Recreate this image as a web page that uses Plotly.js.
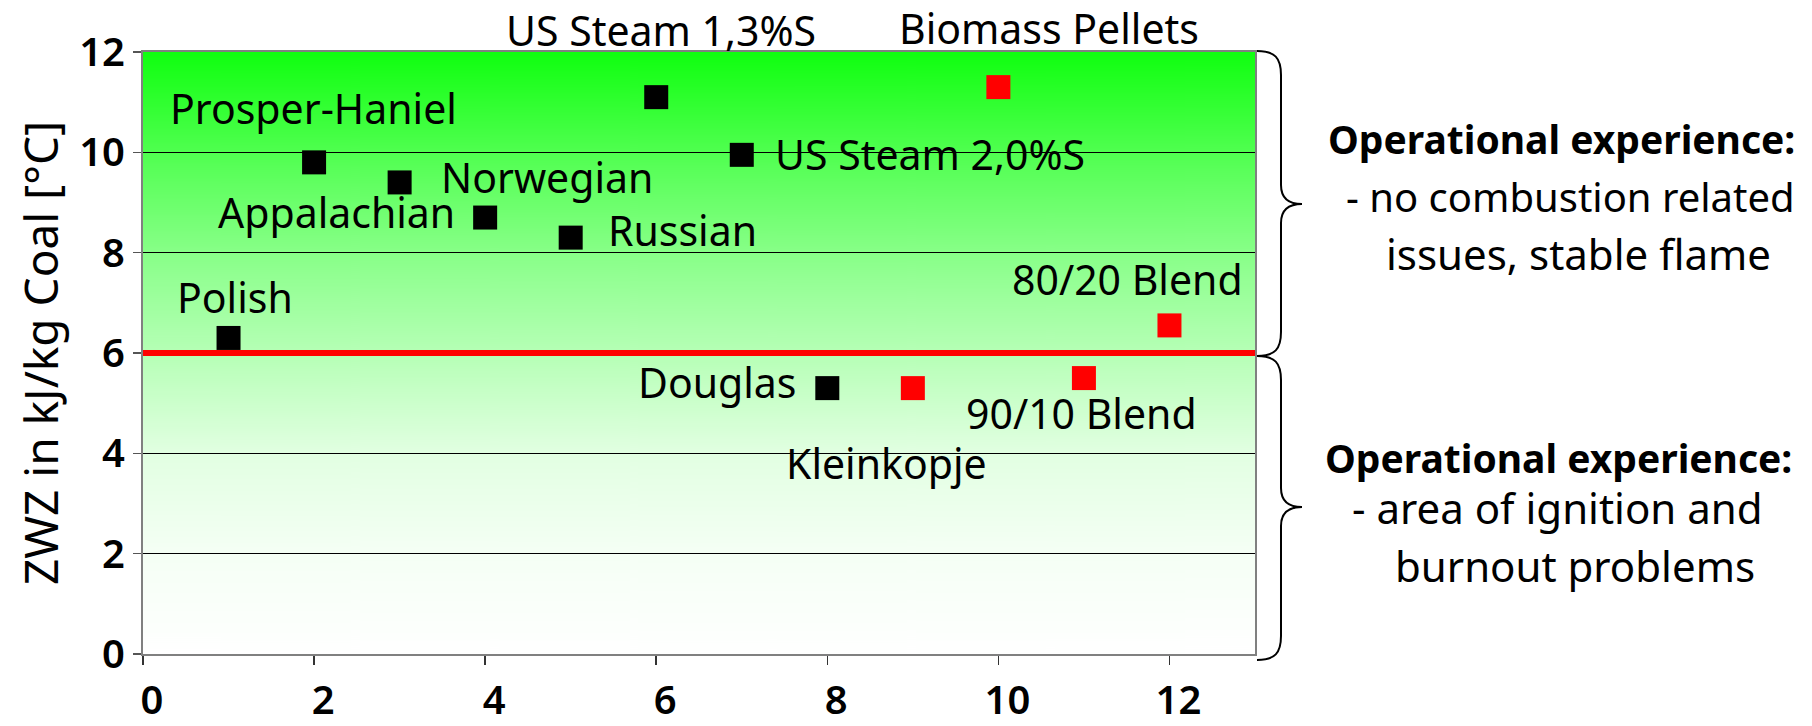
<!DOCTYPE html>
<html>
<head>
<meta charset="utf-8">
<script src="https://cdn.plot.ly/plotly-3.0.1.min.js"></script>
<style>html,body{margin:0;padding:0;background:#fff;}#chart{width:1812px;height:726px;}</style>
</head>
<body>
<div id="chart"></div>
<script>
// ---- data ----
const coalX = [1, 2, 3, 4, 5, 6, 7, 8];
const coalY = [6.3, 9.8, 9.4, 8.7, 8.3, 11.1, 9.95, 5.3];
const coalNames = ["Polish", "Prosper-Haniel", "Norwegian", "Appalachian", "Russian", "US Steam 1,3%S", "US Steam 2,0%S", "Douglas"];

const blendX = [9, 10, 11, 12];
const blendY = [5.3, 11.3, 5.5, 6.55];
const blendNames = ["Kleinkopje", "Biomass Pellets", "90/10 Blend", "80/20 Blend"];

const thresholdY = 6;
const xTickVals = [0, 2, 4, 6, 8, 10, 12];
const yTickVals = [0, 2, 4, 6, 8, 10, 12];
const yTitle = "ZWZ in kJ/kg Coal [°C]";
const upperNote = ["<b>Operational experience:</b>", "- no combustion related", "issues, stable flame"];
const lowerNote = ["<b>Operational experience:</b>", "- area of ignition and", "burnout problems"];

// ---- label offsets (px, relative to each point) ----
const coalLabelOffsets = [[6, 41], [-1, 54], [147, 5], [-149, 6], [112, 8], [5, 67], [188, 1], [-110, 6]];
const blendLabelOffsets = [[-26, -75], [51, 59], [-2, -35], [-42, 46]];

// ---- layout geometry ----
const W = 1812, H = 726;
const M = {l: 143, r: 557, t: 52, b: 72};
const plotW = W - M.l - M.r, plotH = H - M.t - M.b;
const px2x = p => (p - M.l) / plotW;
const px2y = p => (H - M.b - p) / plotH;

// gradient background
function gradientURL() {
  const c = document.createElement('canvas');
  c.width = 8; c.height = 600;
  const g = c.getContext('2d');
  const grd = g.createLinearGradient(0, 0, 0, 600);
  const stops = [[12, 16], [10, 80], [8, 136], [6, 182], [4, 226], [2, 245], [0, 255]];
  stops.forEach(([v, rb]) => grd.addColorStop((12 - v) / 12, `rgb(${rb},255,${rb})`));
  g.fillStyle = grd;
  g.fillRect(0, 0, 8, 600);
  return c.toDataURL('image/png');
}

function bracePath(top, tip, bottom) {
  const xe = 1257, xv = 1281, xt = 1302;
  const pts = [
    ['M', [xe, top]],
    ['C', [xe + 18, top], [xv, top + 7], [xv, top + 24]],
    ['L', [xv, tip - 19]],
    ['C', [xv, tip - 6], [xv + 7, tip], [xt, tip]],
    ['C', [xv + 7, tip], [xv, tip + 6], [xv, tip + 19]],
    ['L', [xv, bottom - 24]],
    ['C', [xv, bottom - 7], [xe + 18, bottom], [xe, bottom]]
  ];
  return pts.map(seg => seg[0] + ' ' + seg.slice(1).map(p => px2x(p[0]).toFixed(5) + ',' + px2y(p[1]).toFixed(5)).join(' ')).join(' ');
}

const labelFont = {family: 'Noto Sans, Open Sans, sans-serif', size: 41, color: '#000'};

const annotations = [];
coalX.forEach((x, i) => annotations.push({
  x: x, y: coalY[i], xref: 'x', yref: 'y', text: coalNames[i], showarrow: false,
  xanchor: 'center', yanchor: 'middle', xshift: coalLabelOffsets[i][0], yshift: coalLabelOffsets[i][1], font: labelFont
}));
blendX.forEach((x, i) => annotations.push({
  x: x, y: blendY[i], xref: 'x', yref: 'y', text: blendNames[i], showarrow: false,
  xanchor: 'center', yanchor: 'middle', xshift: blendLabelOffsets[i][0], yshift: blendLabelOffsets[i][1], font: labelFont
}));

const ff = 'Noto Sans, Open Sans, sans-serif';
const upperFonts = [{family: ff, size: 39, color: '#000'}, {family: ff, size: 40, color: '#000'}, {family: ff, size: 42, color: '#000'}];
const lowerFonts = [{family: ff, size: 39, color: '#000'}, {family: ff, size: 42, color: '#000'}, {family: ff, size: 42, color: '#000'}];
const upperPos = [[1561, 138], [1570, 197], [1578, 253]];
const lowerPos = [[1558, 457], [1557, 507], [1575, 565]];
upperNote.forEach((t, i) => annotations.push({
  x: px2x(upperPos[i][0]), y: px2y(upperPos[i][1]), xref: 'paper', yref: 'paper', text: t,
  showarrow: false, xanchor: 'center', yanchor: 'middle', font: upperFonts[i]
}));
lowerNote.forEach((t, i) => annotations.push({
  x: px2x(lowerPos[i][0]), y: px2y(lowerPos[i][1]), xref: 'paper', yref: 'paper', text: t,
  showarrow: false, xanchor: 'center', yanchor: 'middle', font: lowerFonts[i]
}));

const traces = [
  {x: coalX, y: coalY, text: coalNames, type: 'scatter', mode: 'markers', name: 'Coal',
   marker: {symbol: 'square', size: 24, color: '#000000', line: {width: 0}}, cliponaxis: false, hoverinfo: 'text+x+y'},
  {x: blendX, y: blendY, text: blendNames, type: 'scatter', mode: 'markers', name: 'Biomass / Blends',
   marker: {symbol: 'square', size: 24, color: '#FF0000', line: {width: 0}}, cliponaxis: false, hoverinfo: 'text+x+y'}
];

const tickFont = {family: ff, size: 40, color: '#000', weight: 600};

const layout = {
  width: W, height: H,
  margin: M,
  paper_bgcolor: '#ffffff',
  plot_bgcolor: 'rgba(0,0,0,0)',
  showlegend: false,
  xaxis: {
    range: [0, 13], tickvals: xTickVals, ticks: 'outside', ticklen: 9, tickwidth: 1.5, tickcolor: '#333',
    showgrid: false, zeroline: false, showline: true, linecolor: '#808080', linewidth: 2, mirror: true,
    tickfont: tickFont, ticklabelshift: 9, ticklabelstandoff: 1
  },
  yaxis: {
    range: [0, 12], tickvals: yTickVals, ticks: 'outside', ticklen: 8, tickwidth: 1.5, tickcolor: '#555',
    showgrid: true, gridcolor: '#000000', gridwidth: 1, zeroline: false,
    showline: true, linecolor: '#808080', linewidth: 2, mirror: true,
    tickfont: tickFont,
    title: {text: yTitle, font: {family: ff, size: 46, color: '#000'}, standoff: 6}
  },
  images: [{
    source: gradientURL(), xref: 'paper', yref: 'paper', x: 0, y: 1, sizex: 1, sizey: 1,
    sizing: 'stretch', layer: 'below', xanchor: 'left', yanchor: 'top'
  }],
  shapes: [
    {type: 'line', xref: 'paper', yref: 'y', x0: 0, x1: 1, y0: thresholdY, y1: thresholdY,
     line: {color: '#FF0000', width: 6}, layer: 'above'},
    {type: 'path', xref: 'paper', yref: 'paper', path: bracePath(51, 204, 356), line: {color: '#000', width: 2}},
    {type: 'path', xref: 'paper', yref: 'paper', path: bracePath(356, 507, 660), line: {color: '#000', width: 2}}
  ],
  annotations: annotations
};

Plotly.newPlot('chart', traces, layout, {displayModeBar: false, staticPlot: true});
</script>
</body>
</html>
